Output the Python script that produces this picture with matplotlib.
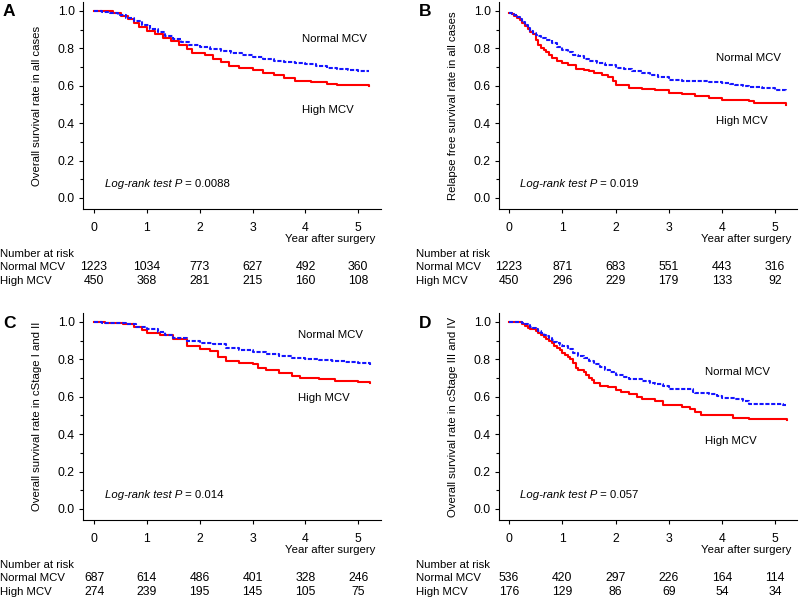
import matplotlib
matplotlib.use("Agg")
import matplotlib.pyplot as plt
from matplotlib.transforms import blended_transform_factory

plt.rcParams["font.family"] = ["Liberation Sans", "DejaVu Sans"]
plt.rcParams["font.size"] = 8.2

# --- data (step curves: time in years, survival) ---
years = [0, 1, 2, 3, 4, 5]

a_t_normal = [0, 0.15, 0.3, 0.45, 0.6, 0.75, 0.9, 1.05, 1.2, 1.35, 1.5, 1.65, 1.8, 2.0,
              2.2, 2.4, 2.6, 2.8, 3.0, 3.2, 3.4, 3.6, 3.8, 4.0, 4.2, 4.4, 4.6, 4.8, 5.0, 5.21]
a_s_normal = [1.0, 0.997, 0.99, 0.98, 0.965, 0.945, 0.925, 0.905, 0.885, 0.865, 0.85, 0.835,
              0.82, 0.805, 0.795, 0.785, 0.775, 0.765, 0.755, 0.745, 0.735, 0.728, 0.72,
              0.715, 0.705, 0.697, 0.69, 0.685, 0.68, 0.677]
a_t_high = [0, 0.25, 0.35, 0.5, 0.65, 0.75, 0.85, 1.0, 1.15, 1.3, 1.45, 1.6, 1.75, 1.85,
            2.1, 2.25, 2.4, 2.55, 2.75, 3.0, 3.2, 3.4, 3.6, 3.8, 4.1, 4.4, 4.6, 4.9, 5.21]
a_s_high = [1.0, 0.998, 0.99, 0.975, 0.955, 0.935, 0.915, 0.895, 0.875, 0.855, 0.84, 0.82,
            0.795, 0.775, 0.765, 0.745, 0.725, 0.705, 0.695, 0.685, 0.67, 0.655, 0.64,
            0.628, 0.62, 0.612, 0.605, 0.602, 0.6]

b_t_normal = [0, 0.05, 0.1, 0.15, 0.2, 0.25, 0.3, 0.35, 0.4, 0.45, 0.5, 0.55, 0.6, 0.7, 0.8,
              0.9, 1.0, 1.1, 1.2, 1.3, 1.4, 1.5, 1.65, 1.8, 2.0, 2.15, 2.3, 2.5, 2.65, 2.8,
              3.0, 3.25, 3.5, 3.75, 4.0, 4.15, 4.25, 4.4, 4.5, 4.75, 5.0, 5.1, 5.21]
b_s_normal = [0.99, 0.985, 0.98, 0.97, 0.955, 0.94, 0.925, 0.91, 0.895, 0.883, 0.873, 0.865,
              0.855, 0.845, 0.83, 0.81, 0.79, 0.778, 0.765, 0.757, 0.745, 0.73, 0.72, 0.71,
              0.695, 0.69, 0.68, 0.668, 0.66, 0.645, 0.632, 0.627, 0.623, 0.618, 0.614, 0.61,
              0.603, 0.598, 0.593, 0.586, 0.58, 0.575, 0.57]
b_t_high = [0, 0.05, 0.1, 0.15, 0.2, 0.25, 0.3, 0.35, 0.4, 0.45, 0.5, 0.55, 0.6, 0.65, 0.7,
            0.75, 0.8, 0.9, 1.0, 1.1, 1.25, 1.4, 1.5, 1.6, 1.75, 1.85, 1.95, 2.0, 2.25, 2.5,
            2.75, 3.0, 3.25, 3.5, 3.75, 4.0, 4.5, 4.6, 5.0, 5.21]
b_s_high = [0.99, 0.985, 0.975, 0.965, 0.95, 0.935, 0.92, 0.905, 0.89, 0.875, 0.846, 0.82,
            0.80, 0.79, 0.78, 0.765, 0.75, 0.735, 0.72, 0.71, 0.69, 0.685, 0.677, 0.668,
            0.66, 0.645, 0.625, 0.605, 0.59, 0.583, 0.575, 0.56, 0.555, 0.543, 0.535, 0.525,
            0.52, 0.51, 0.507, 0.498]

c_t_normal = [0, 0.15, 0.6, 0.8, 1.0, 1.2, 1.35, 1.5, 1.75, 2.0, 2.25, 2.5, 2.75, 3.0, 3.25,
              3.5, 3.75, 4.0, 4.25, 4.5, 4.75, 5.0, 5.23]
c_s_normal = [1.0, 0.995, 0.99, 0.975, 0.96, 0.945, 0.93, 0.916, 0.898, 0.889, 0.88, 0.862,
              0.85, 0.84, 0.83, 0.818, 0.81, 0.804, 0.797, 0.79, 0.785, 0.782, 0.768]
c_t_high = [0, 0.2, 0.55, 0.75, 0.9, 1.0, 1.25, 1.5, 1.75, 2.0, 2.2, 2.35, 2.5, 2.75, 3.0,
            3.1, 3.25, 3.5, 3.75, 3.9, 4.25, 4.55, 5.0, 5.23]
c_s_high = [1.0, 0.993, 0.99, 0.975, 0.955, 0.943, 0.929, 0.91, 0.87, 0.854, 0.845, 0.814,
            0.79, 0.779, 0.773, 0.755, 0.743, 0.729, 0.71, 0.70, 0.693, 0.684, 0.68, 0.675]

d_t_normal = [0, 0.25, 0.3, 0.35, 0.4, 0.45, 0.5, 0.55, 0.6, 0.65, 0.7, 0.75, 0.8, 0.85, 0.9,
              0.95, 1.0, 1.1, 1.2, 1.3, 1.4, 1.5, 1.6, 1.7, 1.8, 1.9, 2.0, 2.15, 2.25, 2.5,
              2.65, 2.75, 2.9, 3.0, 3.35, 3.45, 3.5, 3.75, 3.9, 4.0, 4.25, 4.4, 4.5, 5.0,
              5.15, 5.22]
d_s_normal = [1.0, 0.995, 0.99, 0.985, 0.975, 0.968, 0.96, 0.95, 0.94, 0.93, 0.923, 0.916,
              0.905, 0.895, 0.888, 0.878, 0.87, 0.855, 0.835, 0.82, 0.805, 0.79, 0.775, 0.76,
              0.745, 0.73, 0.714, 0.705, 0.693, 0.684, 0.675, 0.666, 0.655, 0.643, 0.639,
              0.625, 0.618, 0.613, 0.605, 0.595, 0.586, 0.575, 0.564, 0.5625, 0.556, 0.554]
d_t_high = [0, 0.25, 0.3, 0.35, 0.4, 0.5, 0.55, 0.6, 0.65, 0.7, 0.75, 0.8, 0.85, 0.9, 0.95,
            1.0, 1.05, 1.1, 1.15, 1.2, 1.25, 1.3, 1.4, 1.45, 1.5, 1.55, 1.6, 1.7, 1.75, 1.85,
            2.0, 2.1, 2.25, 2.4, 2.5, 2.75, 2.9, 3.25, 3.4, 3.5, 3.6, 4.2, 4.5, 5.22]
d_s_high = [1.0, 0.99, 0.98, 0.97, 0.96, 0.952, 0.94, 0.93, 0.92, 0.91, 0.898, 0.885, 0.87,
            0.86, 0.85, 0.836, 0.825, 0.815, 0.80, 0.78, 0.755, 0.745, 0.73, 0.715, 0.70,
            0.69, 0.675, 0.66, 0.657, 0.65, 0.636, 0.625, 0.614, 0.60, 0.586, 0.577, 0.554,
            0.546, 0.535, 0.518, 0.50, 0.487, 0.479, 0.475]

risk_a_normal = [1223, 1034, 773, 627, 492, 360]
risk_a_high = [450, 368, 281, 215, 160, 108]
risk_b_normal = [1223, 871, 683, 551, 443, 316]
risk_b_high = [450, 296, 229, 179, 133, 92]
risk_c_normal = [687, 614, 486, 401, 328, 246]
risk_c_high = [274, 239, 195, 145, 105, 75]
risk_d_normal = [536, 420, 297, 226, 164, 114]
risk_d_high = [176, 129, 86, 69, 54, 34]

W, H = 800, 600
fig = plt.figure(figsize=(8, 6), dpi=100)


def px(x, y):
    return x / W, 1 - y / H


def panel(letter, left, top, xlim, ylabel, tn, sn, th, sh, normal_xy, high_xy,
          pval, risk_n, risk_h, dy):
    bottom = 209 + dy
    x0, y1 = px(left, bottom)
    ax = fig.add_axes([x0, y1, 298 / W, (bottom - top) / H])
    ax.step(th, sh, where="post", color="#ff0000", lw=1.5)
    ax.step(tn, sn, where="post", color="#1515ff", lw=1.5, linestyle=(0, (2, 0.8)))
    ax.set_xlim(*xlim)
    ax.set_ylim(-0.059, 1.048)
    ax.set_xticks(years)
    ax.set_yticks([0, 0.2, 0.4, 0.6, 0.8, 1.0])
    ax.set_yticklabels(["0.0", "0.2", "0.4", "0.6", "0.8", "1.0"])
    ax.set_yticks([0.1, 0.3, 0.5, 0.7, 0.9], minor=True)
    ax.tick_params(direction="out", length=3, width=0.8, pad=3, labelsize=8.8)
    ax.tick_params(which="minor", direction="out", length=2, width=0.8)
    ax.tick_params(axis="x", pad=6)
    for s in ["top", "right"]:
        ax.spines[s].set_visible(False)
    ax.text(normal_xy[0], normal_xy[1], "Normal MCV", va="center", ha="left")
    ax.text(high_xy[0], high_xy[1], "High MCV", va="center", ha="left")

    # "Log-rank test P" in italics, then " = value" upright
    t = ax.text(0.2, 0.075, "Log-rank test P", style="italic", va="center", ha="left")
    fig.canvas.draw()
    bb = t.get_window_extent()
    ax.text(bb.x1, (bb.y0 + bb.y1) / 2, " = " + pval, va="center", ha="left",
            transform=None)

    fx, fy = px(left + 292, bottom + 30)
    fig.text(fx, fy, "Year after surgery", ha="right", va="center")
    fx, fy = px(left - 46, (top + bottom) / 2)
    fig.text(fx, fy, ylabel, rotation=90, ha="center", va="center")
    fx, fy = px(left - 80, 12 + dy)
    fig.text(fx, fy, letter, fontsize=12.5, fontweight="bold", ha="left", va="center")

    # number at risk table
    trans = blended_transform_factory(ax.transData, fig.transFigure)
    rows = [("Number at risk", None, 254), ("Normal MCV", risk_n, 267),
            ("High MCV", risk_h, 281)]
    for label, vals, ypix in rows:
        fx, fy = px(left - 83, ypix + dy)
        fig.text(fx, fy, label, ha="left", va="center")
        if vals:
            for x, v in zip(years, vals):
                ax.text(x, fy, str(v), ha="center", va="center", transform=trans,
                        fontsize=8.8)
    return ax


panel("A", 83, 2, (-0.21, 5.43), "Overall survival rate in all cases",
      a_t_normal, a_s_normal, a_t_high, a_s_high, (3.94, 0.85), (3.94, 0.47),
      "0.0088", risk_a_normal, risk_a_high, 0)
panel("B", 499, 2, (-0.19, 5.41), "Relapse free survival rate in all cases",
      b_t_normal, b_s_normal, b_t_high, b_s_high, (3.89, 0.75), (3.89, 0.41),
      "0.019", risk_b_normal, risk_b_high, 0)
panel("C", 83, 313, (-0.21, 5.43), "Overall survival rate in cStage I and II",
      c_t_normal, c_s_normal, c_t_high, c_s_high, (3.86, 0.93), (3.86, 0.594),
      "0.014", risk_c_normal, risk_c_high, 311)
panel("D", 499, 313, (-0.19, 5.41), "Overall survival rate in cStage III and IV",
      d_t_normal, d_s_normal, d_t_high, d_s_high, (3.68, 0.733), (3.68, 0.364),
      "0.057", risk_d_normal, risk_d_high, 311)

fig.savefig("out.png", dpi=100)
